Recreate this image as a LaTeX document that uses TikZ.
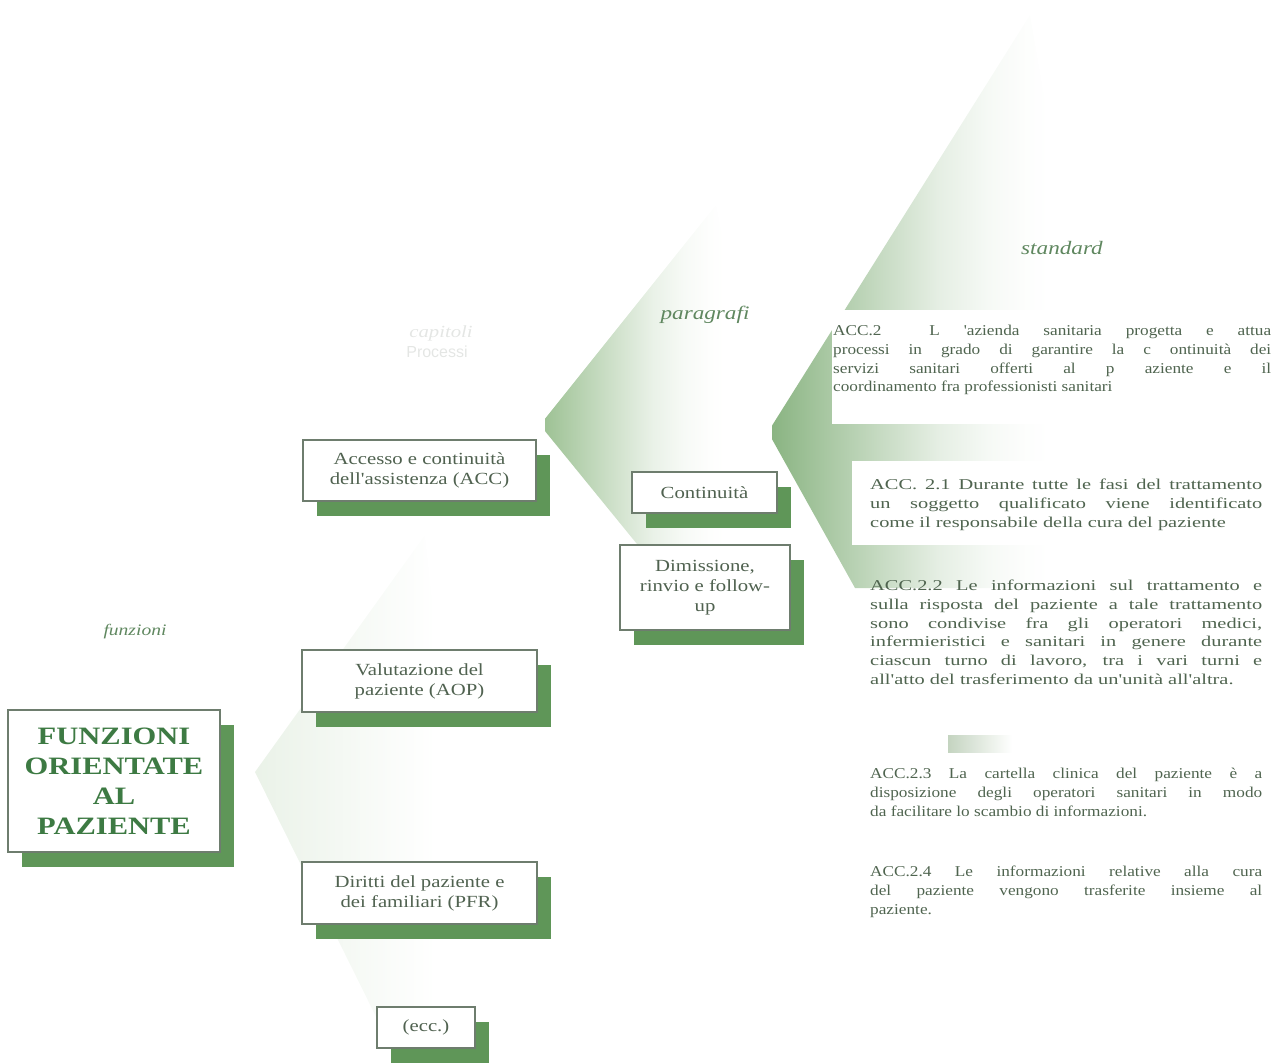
\documentclass[tikz,border=0pt]{standalone}
\usepackage{fontspec}
\setmainfont{Liberation Serif}
\newfontfamily\widefont{Liberation Serif}[FakeStretch=1.22]
\newfontfamily\stdfont{Liberation Serif}[FakeStretch=1.15]
\newfontfamily\stdwidefont{Liberation Serif}[FakeStretch=1.36]
\newfontfamily\ghostsans{Liberation Sans}
\usetikzlibrary{shadows}
\definecolor{custcol_8a_b4_82}{RGB}{138, 180, 130}
\definecolor{custcol_9e_c2_95}{RGB}{158, 194, 149}
\definecolor{custcol_ea_f2_e8}{RGB}{234, 242, 232}
\pgfdeclarehorizontalshading{standardfade}{100bp}{color(0bp)=(custcol_8a_b4_82); color(25bp)=(custcol_8a_b4_82);
  color(42bp)=(custcol_8a_b4_82!50!white); color(52bp)=(custcol_8a_b4_82!22!white);
  color(60bp)=(custcol_8a_b4_82!8!white); color(66bp)=(custcol_8a_b4_82!2!white); color(70bp)=(white); color(100bp)=(white)}
\pgfdeclarehorizontalshading{paragrafifade}{100bp}{color(0bp)=(custcol_9e_c2_95); color(25bp)=(custcol_9e_c2_95);
  color(42bp)=(custcol_9e_c2_95!50!white); color(52bp)=(custcol_9e_c2_95!22!white);
  color(60bp)=(custcol_9e_c2_95!8!white); color(66bp)=(custcol_9e_c2_95!2!white); color(70bp)=(white); color(100bp)=(white)}
\pgfdeclarehorizontalshading{capitolifade}{100bp}{color(0bp)=(custcol_ea_f2_e8); color(25bp)=(custcol_ea_f2_e8);
  color(50bp)=(custcol_ea_f2_e8!40!white); color(68bp)=(white); color(100bp)=(white)}
\begin{document}
\begin{tikzpicture}[x=1pt,y=-1pt,line cap=rect,
  box/.style={draw=custcol_6e_7d_6e, line width=1.2pt, fill=white, align=center, inner sep=0,
    text=custcol_50_62_50, font=\widefont\fontsize{17pt}{20pt}\selectfont,
    drop shadow={fill=custcol_5f_96_58, opacity=1, shadow xshift=14pt, shadow yshift=-15pt}},
  titlebox/.style={box, text=custcol_3d_7a_43, font=\widefont\bfseries\fontsize{25pt}{30pt}\selectfont},
  level/.style={text=custcol_5f_87_5f, inner sep=0, font=\widefont\itshape\fontsize{19pt}{19pt}\selectfont},
  ghost/.style={text=custcol_e4_e6_e4, inner sep=0},
  std/.style={text=custcol_4f_64_4f, inner sep=0, anchor=north west, align=justify,
    font=\stdfont\fontsize{15pt}{18.7pt}\selectfont},
  stdwide/.style={std, font=\stdwidefont\fontsize{15pt}{18.7pt}\selectfont}]
\useasboundingbox (0,0) rectangle (1282,1064);
\definecolor{custcol_5f_96_58}{RGB}{95, 150, 88}
\definecolor{custcol_6e_7d_6e}{RGB}{110, 125, 110}
\definecolor{custcol_50_62_50}{RGB}{80, 98, 80}
\definecolor{custcol_3d_7a_43}{RGB}{61, 122, 67}
\definecolor{custcol_5f_87_5f}{RGB}{95, 135, 95}
\definecolor{custcol_4f_64_4f}{RGB}{79, 100, 79}
\definecolor{custcol_e4_e6_e4}{RGB}{228, 230, 228}
\definecolor{custcol_c4_d4_c0}{RGB}{196, 212, 192}
% wedges
\begin{scope}
\clip (425,535) -- (255,772) -- (390,1045) -- (480,1045) -- cycle;
\shade [shading=capitolifade]  (255,530) rectangle (465,1050);
\end{scope}
\begin{scope}
\clip (716,205) -- (540,425) -- (650,560) -- (790,560) -- cycle;
\shade [shading=paragrafifade]  (545,200) rectangle (745,565);
\end{scope}
\begin{scope}
\clip (1030,15) -- (768,432) -- (855,588) -- (1130,588) -- cycle;
\shade [shading=standardfade]  (772,10) rectangle (1080,590);
\end{scope}
\shade [left color=custcol_c4_d4_c0, right color=white]  (948,735) rectangle (1012,752);
% backgrounds of the standards
\fill [white]  (832,310) rectangle (1282,424);
\fill [white]  (852,461) rectangle (1282,545);
% level labels
\node[level, font=\widefont\itshape\fontsize{16pt}{16pt}\selectfont] (funz) at (135,632) {funzioni};
\node[ghost, font=\widefont\itshape\fontsize{17pt}{17pt}\selectfont] (capit) at (441,333) {capitoli};
\node[ghost, font=\ghostsans\fontsize{16pt}{16pt}\selectfont] (proc) at (437,352) {Processi};
\node[level] (parag) at (705,315) {paragrafi};
\node[level] (stand) at (1062,248) {standard};
% boxes
\node[titlebox, minimum width=212, minimum height=142] (fop) at (114,781) {FUNZIONI\\ORIENTATE\\AL\\PAZIENTE};
\node[box, minimum width=233, minimum height=61] (acc) at (419.5,470.5) {Accesso e continuità\\dell'assistenza (ACC)};
\node[box, minimum width=235, minimum height=62] (aop) at (419.5,681) {Valutazione del\\paziente (AOP)};
\node[box, minimum width=235, minimum height=62] (pfr) at (419.5,893) {Diritti del paziente e\\dei familiari (PFR)};
\node[box, minimum width=98, minimum height=41] (ecc) at (426,1027.5) {(ecc.)};
\node[box, minimum width=145, minimum height=41] (cont) at (704.5,492.5) {Continuità};
\node[box, minimum width=170, minimum height=85] (dim) at (705,587.5) {Dimissione,\\rinvio e follow-\\up};
% standards
\node[std, text width=438] (acc2) at (833,325) {ACC.2 \ L 'azienda sanitaria progetta e attua\linebreak processi in grado di garantire la c ontinuità dei\linebreak servizi sanitari offerti al p aziente e il\linebreak coordinamento fra professionisti sanitari};
\node[stdwide, text width=392] (acc21) at (870,479) {ACC. 2.1 Durante tutte le fasi del trattamento\linebreak un soggetto qualificato viene identificato\linebreak come il responsabile della cura del paziente};
\node[stdwide, text width=392] (acc22) at (870,580) {ACC.2.2 Le informazioni sul trattamento e\linebreak sulla risposta del paziente a tale trattamento\linebreak sono condivise fra gli operatori medici,\linebreak infermieristici e sanitari in genere durante\linebreak ciascun turno di lavoro, tra i vari turni e\linebreak all'atto del trasferimento da un'unità all'altra.};
\node[std, text width=392] (acc23) at (870,768) {ACC.2.3 La cartella clinica del paziente è a\linebreak disposizione degli operatori sanitari in modo\linebreak da facilitare lo scambio di informazioni.};
\node[std, text width=392] (acc24) at (870,866) {ACC.2.4 Le informazioni relative alla cura\linebreak del paziente vengono trasferite insieme al\linebreak paziente.};
\end{tikzpicture}
\end{document}
